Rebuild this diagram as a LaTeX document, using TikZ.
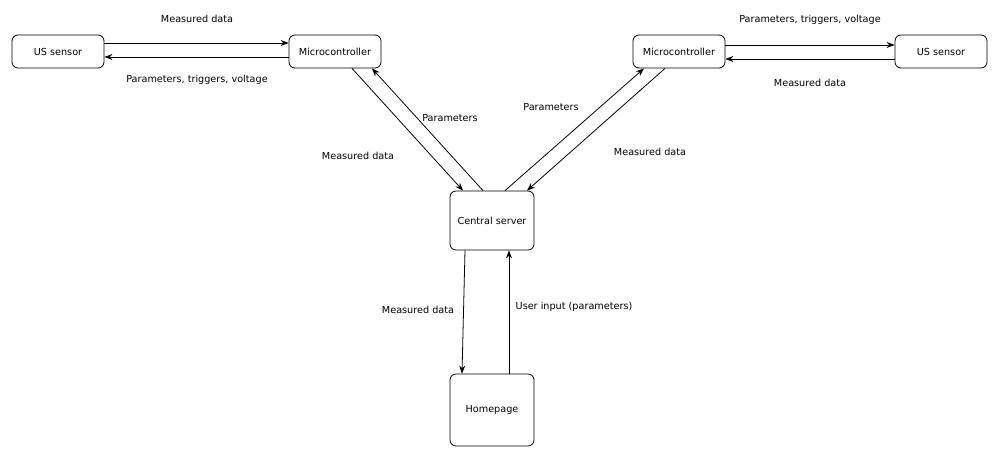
\documentclass[tikz,border=0pt]{standalone}
\usepackage{fontspec}
\setmainfont{DejaVu Sans}
\usetikzlibrary{arrows.meta}

\begin{document}
\begin{tikzpicture}[x=0.2mm,y=-0.2mm,
        font=\fontsize{5.5}{6.6}\selectfont,line width=0.45pt,
        box/.style={draw,rounded corners=1.2mm,minimum width=18.4mm,minimum height=6.6mm,inner sep=1pt},
        bigbox/.style={box,minimum width=16.8mm},
        lbl/.style={inner sep=1pt},
        flow/.style={-{Stealth[length=1.6mm,width=1.2mm]}}]

    \useasboundingbox (0,0) rectangle (1000,458);

    % boxes
    \node[box] (usl) at (58,51.5) {US sensor};
    \node[box] (mcl) at (335,51.5) {Microcontroller};
    \node[box] (mcr) at (679,51.5) {Microcontroller};
    \node[box] (usr) at (941,51.5) {US sensor};
    \node[bigbox,minimum height=11.8mm] (srv) at (492,220.5) {Central server};
    \node[bigbox,minimum height=14.4mm] (web) at (492,410) {Homepage};

    % left sensor <-> microcontroller
    \draw[flow] ([yshift=1.7mm]usl.east) -- ([yshift=1.7mm]mcl.west);
    \draw[flow] ([yshift=-1.1mm]mcl.west) -- ([yshift=-1.1mm]usl.east);
    \node[lbl] (l1) at (197,19) {Measured data};
    \node[lbl] (l2) at (197,80) {Parameters, triggers, voltage};

    % right microcontroller <-> sensor
    \draw[flow] ([yshift=1.3mm]mcr.east) -- ([yshift=1.3mm]usr.west);
    \draw[flow] ([yshift=-1.5mm]usr.west) -- ([yshift=-1.5mm]mcr.east);
    \node[lbl] (l3) at (810,20) {Parameters, triggers, voltage};
    \node[lbl] (l4) at (810,83) {Measured data};

    % microcontrollers <-> server
    \draw[flow] ([xshift=3.4mm]mcl.south) -- ([xshift=-5.8mm]srv.north);
    \draw[flow] ([xshift=-1.8mm]srv.north) -- ([xshift=7.4mm]mcl.south);
    \node[lbl] (l5) at (450,118) {Parameters};
    \node[lbl] (l6) at (358,156) {Measured data};
    \draw[flow] ([xshift=2.6mm]srv.north) -- ([xshift=-7mm]mcr.south);
    \draw[flow] ([xshift=-2.8mm]mcr.south) -- ([xshift=7mm]srv.north);
    \node[lbl] (l7) at (551,107) {Parameters};
    \node[lbl] (l8) at (650,152) {Measured data};

    % server <-> homepage
    \draw[flow] ([xshift=-5.4mm]srv.south) -- ([xshift=-6mm]web.north);
    \draw[flow] ([xshift=3.4mm]web.north) -- ([xshift=3.4mm]srv.south);
    \node[lbl] (l9) at (418,310) {Measured data};
    \node[lbl] (l10) at (574,307) {User input (parameters)};
\end{tikzpicture}
\end{document}
